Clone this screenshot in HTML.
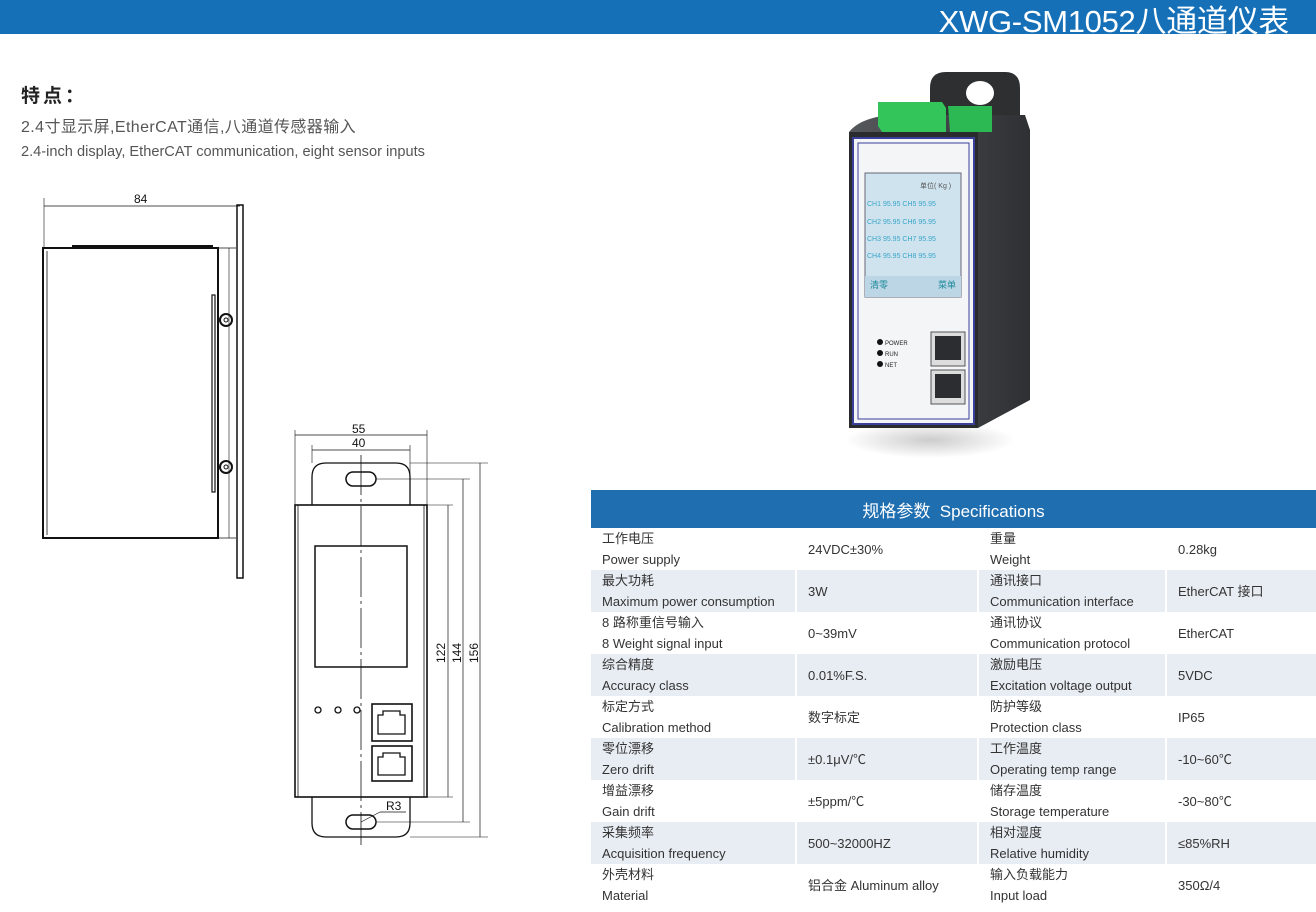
<!DOCTYPE html>
<html><head><meta charset="utf-8"><style>
*{margin:0;padding:0;box-sizing:border-box}
body{width:1316px;height:912px;background:#fff;position:relative;overflow:hidden;font-family:"Liberation Sans","Noto Sans CJK SC",sans-serif;color:#333}
.hdr{position:absolute;left:0;top:0;width:1316px;height:34px;background:#1570b8}
.hdr span{position:absolute;right:27px;top:-4px;color:#fff;font-size:31px;letter-spacing:-0.3px}
.t{position:absolute;white-space:nowrap;line-height:1}
table{position:absolute;left:591px;top:490px;border-collapse:collapse;font-size:13px;color:#333}
th{background:#1f6eb0;color:#fff;height:38px;font-weight:normal;font-size:17px}
td{height:42px;padding:0 11px;line-height:21px;vertical-align:middle}
tr.a td{background:#e8edf3}
td+td{border-left:2px solid #fff}
</style></head><body>
<div class="hdr"><span>XWG-SM1052八通道仪表</span></div>
<div class="t" style="left:21px;top:87px;font-size:19px;font-weight:bold;color:#222;letter-spacing:3px">特点：</div>
<div class="t" style="left:21px;top:120px;font-size:16px;color:#555;letter-spacing:0.4px">2.4寸显示屏,EtherCAT通信,八通道传感器输入</div>
<div class="t" style="left:21px;top:145px;font-size:14.6px;color:#555">2.4-inch display, EtherCAT communication, eight sensor inputs</div>

<svg style="position:absolute;left:0;top:0" width="600" height="912" font-family="Liberation Sans,sans-serif" font-size="12" fill="none" stroke="#111">
<line x1="44" y1="198" x2="44" y2="248" stroke-width="0.6"/>
<line x1="44" y1="206" x2="240" y2="206" stroke-width="0.7"/>
<text x="134" y="203" fill="#111" stroke="none">84</text>
<rect x="43" y="248" width="175" height="290" stroke-width="2"/>
<line x1="47" y1="251" x2="47" y2="535" stroke-width="0.8"/>
<line x1="72" y1="246" x2="213" y2="246" stroke-width="2"/>
<line x1="218" y1="248" x2="236" y2="248" stroke-width="0.8"/>
<line x1="218" y1="538" x2="236" y2="538" stroke-width="0.8"/>
<line x1="229" y1="248" x2="229" y2="538" stroke-width="0.6"/>
<rect x="237" y="205" width="6" height="373" stroke-width="1.5"/>
<rect x="212" y="295" width="3" height="197" stroke-width="1.2"/>
<circle cx="226" cy="320" r="6" stroke-width="2"/><circle cx="226" cy="320" r="2" stroke-width="1"/>
<circle cx="226" cy="467" r="6" stroke-width="2"/><circle cx="226" cy="467" r="2" stroke-width="1"/>
<line x1="295" y1="430" x2="295" y2="505" stroke-width="0.6"/>
<line x1="427" y1="430" x2="427" y2="505" stroke-width="0.6"/>
<line x1="312" y1="445" x2="312" y2="463" stroke-width="0.6"/>
<line x1="410" y1="445" x2="410" y2="505" stroke-width="0.6"/>
<line x1="295" y1="435" x2="427" y2="435" stroke-width="0.7"/>
<line x1="312" y1="450" x2="410" y2="450" stroke-width="0.7"/>
<text x="352" y="433" fill="#111" stroke="none">55</text>
<text x="352" y="447" fill="#111" stroke="none">40</text>
<path d="M312 505 V477 Q312 463 326 463 H396 Q410 463 410 477 V505" stroke-width="1.3"/>
<path d="M312 797 V823 Q312 837 326 837 H396 Q410 837 410 823 V797" stroke-width="1.3"/>
<rect x="346" y="472" width="30" height="14" rx="7" stroke-width="1.5"/>
<rect x="346" y="815" width="30" height="14" rx="7" stroke-width="1.5"/>
<rect x="295" y="505" width="132" height="292" stroke-width="1.6"/>
<line x1="298" y1="505" x2="298" y2="797" stroke-width="0.8"/>
<line x1="424" y1="505" x2="424" y2="797" stroke-width="0.8"/>
<line x1="361" y1="455" x2="361" y2="845" stroke-width="0.8" stroke-dasharray="40 4 3 4"/>
<rect x="315" y="546" width="92" height="121" stroke-width="1.5"/>
<circle cx="318" cy="710" r="3" stroke-width="1.3"/><circle cx="338" cy="710" r="3" stroke-width="1.3"/><circle cx="357" cy="710" r="3" stroke-width="1.3"/>
<rect x="372" y="704" width="40" height="37" stroke-width="1.6"/>
<path d="M378 734 V715 H383 V711 H400 V715 H405 V734 Z" stroke-width="1.3"/>
<rect x="372" y="746" width="40" height="35" stroke-width="1.6"/>
<path d="M378 775 V757 H383 V753 H400 V757 H405 V775 Z" stroke-width="1.3"/>
<line x1="361" y1="822" x2="380" y2="812" stroke-width="0.7"/><line x1="380" y1="812" x2="406" y2="812" stroke-width="0.7"/>
<text x="386" y="810" fill="#111" stroke="none">R3</text>
<line x1="427" y1="505" x2="453" y2="505" stroke-width="0.6"/>
<line x1="427" y1="797" x2="453" y2="797" stroke-width="0.6"/>
<line x1="376" y1="479" x2="470" y2="479" stroke-width="0.6"/>
<line x1="376" y1="822" x2="470" y2="822" stroke-width="0.6"/>
<line x1="410" y1="463" x2="488" y2="463" stroke-width="0.6"/>
<line x1="410" y1="837" x2="488" y2="837" stroke-width="0.6"/>
<line x1="448" y1="505" x2="448" y2="797" stroke-width="0.7"/>
<line x1="463" y1="479" x2="463" y2="822" stroke-width="0.7"/>
<line x1="480" y1="463" x2="480" y2="837" stroke-width="0.7"/>
<g fill="#111" stroke="none">
<text transform="translate(445,663) rotate(-90)">122</text>
<text transform="translate(461,663) rotate(-90)">144</text>
<text transform="translate(478,663) rotate(-90)">156</text>
</g>
</svg>

<svg style="position:absolute;top:60px;left:820px" width="240" height="410">
<defs>
<linearGradient id="sd" x1="0" x2="1"><stop offset="0" stop-color="#55585c"/><stop offset="1" stop-color="#2e3033"/></linearGradient>
<radialGradient id="sh" cx="0.5" cy="0.5" r="0.5"><stop offset="0" stop-color="#ccc"/><stop offset="1" stop-color="#fff"/></radialGradient>
</defs>
<ellipse cx="110" cy="380" rx="85" ry="18" fill="url(#sh)"/>
<path d="M110 60 V28 Q110 12 126 12 H185 Q200 12 200 28 V60 Z" fill="#2d2f31"/>
<ellipse cx="160" cy="33" rx="14" ry="12" fill="#fff"/>
<path d="M29 72 Q40 58 70 55 H205 L210 70 V340 L158 368 V72 Z" fill="url(#sd)"/>
<path d="M29 72 H158 V368 H29 Z" fill="#2a2b2d"/>
<rect x="33" y="78" width="121" height="286" fill="#f4f5f7" stroke="#3a3f9a" stroke-width="2"/>
<rect x="38" y="83" width="111" height="276" fill="none" stroke="#3a3f9a" stroke-width="1"/>
<path d="M58 42 H122 L126 48 V72 H62 L58 66 Z" fill="#33c45a"/>
<path d="M128 46 H172 V72 H130 Z" fill="#2cb852"/>
<rect x="45" y="113" width="96" height="124" fill="#cfe3ef" stroke="#667" stroke-width="1"/>
<rect x="45" y="216" width="96" height="21" fill="#bcd6e6"/>
<g font-family="Liberation Sans,Noto Sans CJK SC,sans-serif" font-size="7" fill="#3aa6c8">
<text x="47" y="146">CH1  95.95 CH5  95.95</text>
<text x="47" y="164">CH2  95.95 CH6  95.95</text>
<text x="47" y="181">CH3  95.95 CH7  95.95</text>
<text x="47" y="198">CH4  95.95 CH8  95.95</text>
<text x="50" y="228" font-size="9" fill="#1d8a9a">清零</text>
<text x="118" y="228" font-size="9" fill="#1d8a9a">菜单</text>
<text x="100" y="128" fill="#555">单位( Kg )</text>
</g>
<g fill="#111"><circle cx="60" cy="282" r="3"/><circle cx="60" cy="293" r="3"/><circle cx="60" cy="304" r="3"/></g>
<g font-family="Liberation Sans,sans-serif" font-size="6" fill="#222"><text x="65" y="285">POWER</text><text x="65" y="296">RUN</text><text x="65" y="307">NET</text></g>
<rect x="111" y="272" width="34" height="34" fill="#ddd" stroke="#555"/>
<rect x="115" y="276" width="26" height="24" fill="#2b2d30"/>
<rect x="111" y="310" width="34" height="34" fill="#ddd" stroke="#555"/>
<rect x="115" y="314" width="26" height="24" fill="#2b2d30"/>
</svg>

<table>
<tr><th colspan="4">规格参数&nbsp; Specifications</th></tr>
<tr><td style="width:205px">工作电压<br>Power supply</td><td style="width:182px">24VDC±30%</td><td style="width:188px">重量<br>Weight</td><td style="width:150px">0.28kg</td></tr>
<tr class="a"><td>最大功耗<br>Maximum power consumption</td><td>3W</td><td>通讯接口<br>Communication interface</td><td>EtherCAT 接口</td></tr>
<tr><td>8 路称重信号输入<br>8 Weight signal input</td><td>0~39mV</td><td>通讯协议<br>Communication protocol</td><td>EtherCAT</td></tr>
<tr class="a"><td>综合精度<br>Accuracy class</td><td>0.01%F.S.</td><td>激励电压<br>Excitation voltage output</td><td>5VDC</td></tr>
<tr><td>标定方式<br>Calibration method</td><td>数字标定</td><td>防护等级<br>Protection class</td><td>IP65</td></tr>
<tr class="a"><td>零位漂移<br>Zero drift</td><td>±0.1μV/℃</td><td>工作温度<br>Operating temp range</td><td>-10~60℃</td></tr>
<tr><td>增益漂移<br>Gain drift</td><td>±5ppm/℃</td><td>储存温度<br>Storage temperature</td><td>-30~80℃</td></tr>
<tr class="a"><td>采集频率<br>Acquisition frequency</td><td>500~32000HZ</td><td>相对湿度<br>Relative humidity</td><td>≤85%RH</td></tr>
<tr><td>外壳材料<br>Material</td><td>铝合金 Aluminum alloy</td><td>输入负载能力<br>Input load</td><td>350Ω/4</td></tr>
</table>
</body></html>
